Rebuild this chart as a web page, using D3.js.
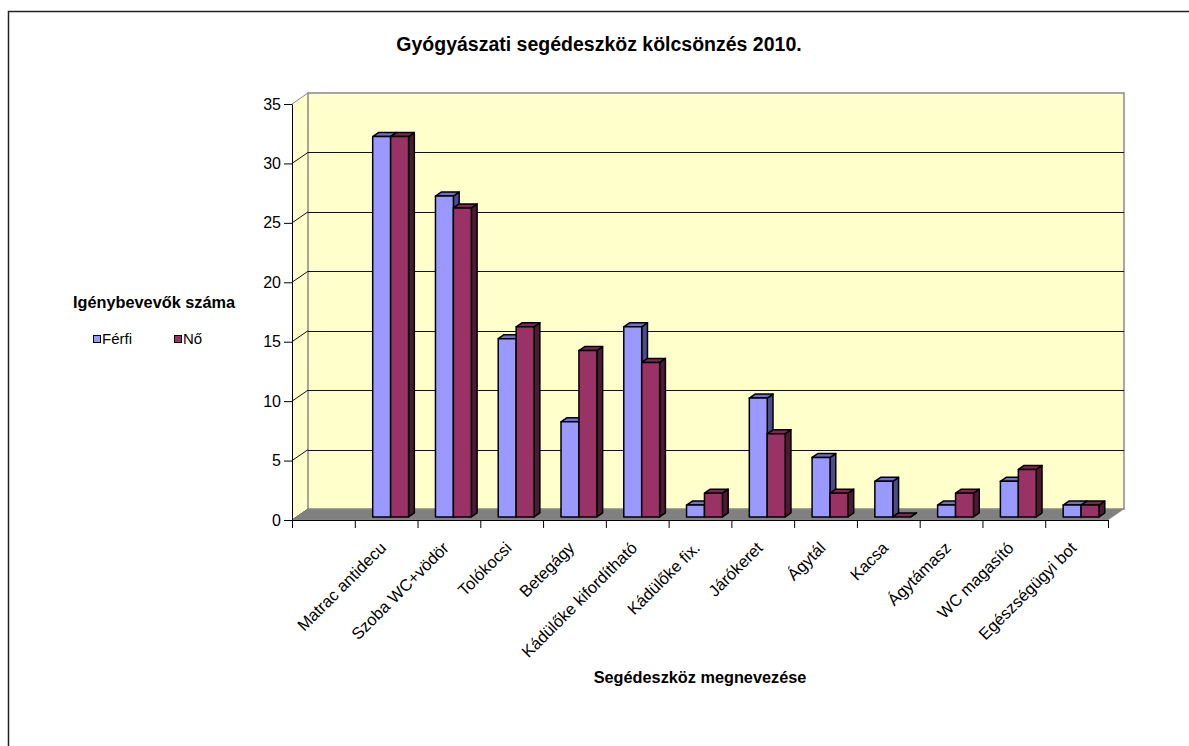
<!DOCTYPE html>
<html>
<head>
<meta charset="utf-8">
<script src="https://cdn.jsdelivr.net/npm/d3@7"></script>
<style>
  body { margin: 0; background: #fff; }
  svg text { font-family: "Liberation Sans", Arial, sans-serif; fill: #000; }
</style>
</head>
<body>
<div id="chart"></div>
<script>
// data
var categories = ["", "Matrac antidecu", "Szoba WC+vödör", "Tolókocsi", "Betegágy",
    "Kádülőke kifordítható", "Kádülőke fix.", "Járókeret", "Ágytál", "Kacsa",
    "Ágytámasz", "WC magasító", "Egészségügyi bot"];
var series = ["Férfi", "Nő"];
var ferfi = [null, 32, 27, 15, 8, 16, 1, 10, 5, 3, 1, 3, 1];
var no = [null, 32, 26, 16, 14, 13, 2, 7, 2, 0, 2, 4, 1];
var yTicks = [0, 5, 10, 15, 20, 25, 30, 35];

var colors = {
    "Férfi": { front: "#9999ff", top: "#6f6fcc", side: "#4c4c8a" },
    "Nő": { front: "#993366", top: "#7a2952", side: "#4d1a33" }
};

var svgWidth = 1189, svgHeight = 746;
var svg = d3.select("#chart").append("svg")
    .attr("width", svgWidth)
    .attr("height", svgHeight);

// outer frame (only top and left visible)
svg.append("path")
    .attr("d", "M8.5," + svgHeight + "V11.5H" + svgWidth)
    .attr("fill", "none")
    .attr("stroke", "#222")
    .attr("stroke-width", 1.5);

// plot geometry (front plane)
var pLeft = 292, pRight = 1108, pBottom = 520, pTop = 104;
var DX = 16, DY = -11; // depth offset of back wall
var f0 = 0.28, f1 = 0.64; // bar depth range

var x = d3.scaleBand().domain(categories).range([pLeft, pRight]).padding(0);
var x1 = d3.scaleBand().domain(series).range([0, x.bandwidth()])
    .paddingInner(0).paddingOuter(0.75);
var y = d3.scaleLinear().domain([0, 35]).range([pBottom, pTop]);

var g = svg.append("g");

// side wall
g.append("path")
    .attr("d", "M" + pLeft + "," + y(0) + "L" + pLeft + "," + y(35) +
        "L" + (pLeft + DX) + "," + (y(35) + DY) + "L" + (pLeft + DX) + "," + (y(0) + DY) + "Z")
    .attr("fill", "#ffffcc");

// back wall
g.append("rect")
    .attr("x", pLeft + DX)
    .attr("y", y(35) + DY)
    .attr("width", pRight - pLeft)
    .attr("height", y(0) - y(35))
    .attr("fill", "#ffffcc")
    .attr("stroke", "#888")
    .attr("stroke-width", 1.5);

// gridlines on back wall + diagonals on side wall
yTicks.forEach(function (t) {
    if (t > 0 && t < 35) {
        g.append("line")
            .attr("x1", pLeft + DX).attr("x2", pRight + DX)
            .attr("y1", Math.round(y(t) + DY) + 0.5).attr("y2", Math.round(y(t) + DY) + 0.5)
            .attr("stroke", "#111");
    }
    g.append("line")
        .attr("x1", pLeft).attr("y1", y(t))
        .attr("x2", pLeft + DX).attr("y2", y(t) + DY)
        .attr("stroke", t == 35 ? "#888" : "#111");
});

// floor
g.append("path")
    .attr("d", "M" + pLeft + "," + y(0) + "L" + (pLeft + DX) + "," + (y(0) + DY) +
        "L" + (pRight + DX) + "," + (y(0) + DY) + "L" + pRight + "," + y(0) + "Z")
    .attr("fill", "#808080")
    .attr("stroke", "#999")
    .attr("stroke-width", 0.5);

// bars, drawn left to right
var ddx = (f1 - f0) * DX, ddy = (f1 - f0) * DY;
var w = x1.bandwidth();
categories.forEach(function (c, i) {
    var vals = { "Férfi": ferfi[i], "Nő": no[i] };
    series.forEach(function (s) {
        var v = vals[s];
        if (v === null) return;
        var x0 = x(c) + x1(s) + f0 * DX;
        var yt = y(v) + f0 * DY;
        var yb = y(0) + f0 * DY;
        var bar = g.append("g").attr("stroke", "#000").attr("stroke-width", 1.5)
            .attr("stroke-linejoin", "round");
        bar.append("path")
            .attr("d", "M" + (x0 + w) + "," + yt + "L" + (x0 + w + ddx) + "," + (yt + ddy) +
                "L" + (x0 + w + ddx) + "," + (yb + ddy) + "L" + (x0 + w) + "," + yb + "Z")
            .attr("fill", colors[s].side);
        bar.append("path")
            .attr("d", "M" + x0 + "," + yt + "L" + (x0 + w) + "," + yt +
                "L" + (x0 + w + ddx) + "," + (yt + ddy) + "L" + (x0 + ddx) + "," + (yt + ddy) + "Z")
            .attr("fill", colors[s].top);
        if (v > 0) {
            bar.append("rect")
                .attr("x", x0).attr("y", yt)
                .attr("width", w).attr("height", yb - yt)
                .attr("fill", colors[s].front);
        }
    });
});

// y axis
var yAxis = g.append("g")
    .attr("transform", "translate(" + pLeft + ",0)")
    .call(d3.axisLeft(y).tickValues(yTicks).tickSize(8).tickSizeOuter(0).tickPadding(3));
yAxis.select(".domain").attr("stroke", "#000");
yAxis.selectAll(".tick line").attr("stroke", "#000");
yAxis.selectAll(".tick text")
    .style("font-size", "16px")
    .attr("fill", "#000");

// x axis: ticks at category boundaries
var xEdges = d3.scaleLinear().domain([0, categories.length]).range([pLeft, pRight]);
var xAxis = g.append("g")
    .attr("transform", "translate(0," + pBottom + ")")
    .call(d3.axisBottom(xEdges).tickValues(d3.range(categories.length + 1))
        .tickSize(8).tickSizeOuter(0).tickFormat(""));
xAxis.select(".domain").attr("stroke", "#000");
xAxis.selectAll(".tick line").attr("stroke", "#000");

// category labels
g.selectAll(".cat")
    .data(categories)
    .enter().append("text")
    .attr("class", "cat")
    .attr("text-anchor", "end")
    .style("font-size", "16.5px")
    .attr("transform", function (d) {
        return "translate(" + (x(d) + x.bandwidth() / 2 + 1) + ",549) rotate(-45)";
    })
    .text(function (d) { return d; });

// titles
svg.append("text")
    .attr("x", 599).attr("y", 51)
    .attr("text-anchor", "middle")
    .style("font-size", "19.5px")
    .style("font-weight", "bold")
    .text("Gyógyászati segédeszköz kölcsönzés 2010.");

svg.append("text")
    .attr("x", 154).attr("y", 308)
    .attr("text-anchor", "middle")
    .style("font-size", "16.3px")
    .style("font-weight", "bold")
    .text("Igénybevevők száma");

svg.append("text")
    .attr("x", 700).attr("y", 683)
    .attr("text-anchor", "middle")
    .style("font-size", "16.3px")
    .style("font-weight", "bold")
    .text("Segédeszköz megnevezése");

// legend
var legendX = [93.5, 174.5];
var legend = svg.selectAll(".legend")
    .data(series)
    .enter().append("g")
    .attr("class", "legend")
    .attr("transform", function (d, i) { return "translate(" + legendX[i] + ",335.5)"; });
legend.append("rect")
    .attr("width", 7).attr("height", 7)
    .attr("fill", function (d) { return colors[d].front; })
    .attr("stroke", "#000");
legend.append("text")
    .attr("x", 8.5).attr("y", 8)
    .style("font-size", "15px")
    .text(function (d) { return d; });
</script>
</body>
</html>
